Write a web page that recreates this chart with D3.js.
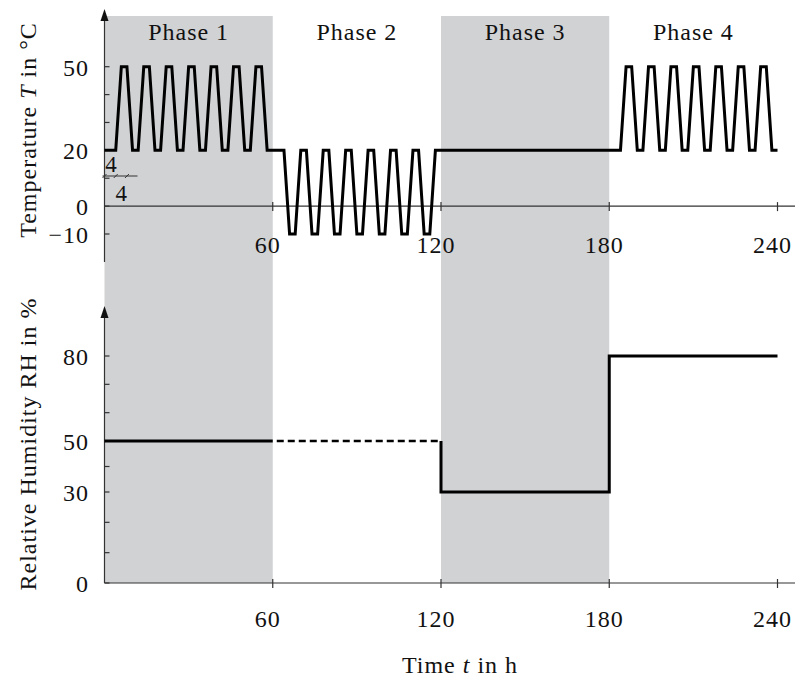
<!DOCTYPE html>
<html>
<head>
<meta charset="utf-8">
<script src="https://cdn.jsdelivr.net/npm/d3@7"></script>
<style>
  body { margin: 0; background: #fff; }
  svg text { font-family: "Times New Roman", "Liberation Serif", Times, serif; fill: #111; }
</style>
</head>
<body>
<div id="chart"></div>
<script>
// phases (start hour of each 60 h block)
const phaseNames = ["Phase 1", "Phase 2", "Phase 3", "Phase 4"];
const phaseStart = [0, 60, 120, 180];
const phaseShaded = [true, false, true, false];

// temperature profile, corner points (h, °C)
const tempTime = [
  0, 4, 6, 8, 10, 12, 14, 16, 18, 20, 22, 24, 26, 28, 30, 32, 34, 36, 38, 40, 42, 44, 46, 48, 50, 52, 54, 56, 58,
  64, 66, 68, 70, 72, 74, 76, 78, 80, 82, 84, 86, 88, 90, 92, 94, 96, 98, 100, 102, 104, 106, 108, 110, 112, 114, 116, 118,
  184, 186, 188, 190, 192, 194, 196, 198, 200, 202, 204, 206, 208, 210, 212, 214, 216, 218, 220, 222, 224, 226, 228, 230, 232, 234, 236, 238, 240
];
const tempValue = [
  20, 20, 50, 50, 20, 20, 50, 50, 20, 20, 50, 50, 20, 20, 50, 50, 20, 20, 50, 50, 20, 20, 50, 50, 20, 20, 50, 50, 20,
  20, -10, -10, 20, 20, -10, -10, 20, 20, -10, -10, 20, 20, -10, -10, 20, 20, -10, -10, 20, 20, -10, -10, 20, 20, -10, -10, 20,
  20, 50, 50, 20, 20, 50, 50, 20, 20, 50, 50, 20, 20, 50, 50, 20, 20, 50, 50, 20, 20, 50, 50, 20, 20, 50, 50, 20, 20
];

// relative humidity profile (h, %)
const rhSolid1 = [[0, 50], [60, 50]];
const rhDashed = [[60, 50], [120, 50]];
const rhSolid2 = [[120, 50], [120, 30], [180, 30], [180, 80], [240, 80]];

// axis ticks
const xTicks = [60, 120, 180, 240];
const tempTicks = [-10, 0, 10, 20, 30, 40, 50];
const tempLabels = [-10, 0, 20, 50];
const rhTicks = [0, 10, 20, 30, 40, 50, 60, 70, 80];
const rhLabels = [0, 30, 50, 80];
const dimMarks = [0, 4, 8];

const W = 795, H = 686;
const svg = d3.select("#chart").append("svg")
  .attr("width", W).attr("height", H);

const x = d3.scaleLinear().domain([0, 240]).range([104.5, 777.5]);
const yT = d3.scaleLinear().domain([-10, 50]).range([234, 66.7]);
// the RH axis of the original is not evenly spaced
const yRH = d3.scaleLinear().domain([0, 30, 50, 80]).range([583, 492, 441, 356]);

const bandTop = 16, bandBottom = yRH(0);
const axisColor = "#333";

// shaded phases
svg.append("g").selectAll("rect")
  .data(phaseStart.filter((d, i) => phaseShaded[i]))
  .join("rect")
  .attr("x", d => x(d))
  .attr("y", bandTop)
  .attr("width", d => x(d + 60) - x(d))
  .attr("height", bandBottom - bandTop)
  .attr("fill", "#d1d2d4");

// phase titles
svg.append("g").selectAll("text")
  .data(phaseNames)
  .join("text")
  .attr("x", (d, i) => x(phaseStart[i] + 30))
  .attr("y", 40)
  .attr("text-anchor", "middle")
  .style("font-size", "24px")
  .style("letter-spacing", "1px")
  .text(d => d);

function xAxis(y0, labelY) {
  const g = svg.append("g");
  g.append("line")
    .attr("x1", x(0)).attr("x2", W)
    .attr("y1", y0).attr("y2", y0)
    .attr("stroke", axisColor).attr("stroke-width", 1.2);
  g.selectAll("line.tick").data(xTicks).join("line")
    .attr("class", "tick")
    .attr("x1", d => x(d)).attr("x2", d => x(d))
    .attr("y1", y0 - 4).attr("y2", y0 + 5)
    .attr("stroke", axisColor).attr("stroke-width", 1.2);
  g.selectAll("text").data(xTicks).join("text")
    .attr("x", d => x(d) - 5)
    .attr("y", labelY)
    .attr("text-anchor", "middle")
    .style("font-size", "24px")
    .style("letter-spacing", "1px")
    .text(d => d);
}

function yAxis(scale, ticks, labels, top, bottom) {
  const g = svg.append("g");
  g.append("line")
    .attr("x1", x(0)).attr("x2", x(0))
    .attr("y1", top + 8).attr("y2", bottom)
    .attr("stroke", axisColor).attr("stroke-width", 1.2);
  // arrow head
  g.append("path")
    .attr("d", `M${x(0)},${top} L${x(0) - 4},${top + 12} L${x(0) + 4},${top + 12} Z`)
    .attr("fill", "#111");
  g.selectAll("line.tick").data(ticks).join("line")
    .attr("class", "tick")
    .attr("x1", x(0)).attr("x2", x(0) + 5)
    .attr("y1", d => scale(d)).attr("y2", d => scale(d))
    .attr("stroke", axisColor).attr("stroke-width", 1.2);
  g.selectAll("text").data(labels).join("text")
    .attr("x", 89)
    .attr("y", d => scale(d) + 9)
    .attr("text-anchor", "end")
    .style("font-size", "24px")
    .style("letter-spacing", "1px")
    .text(d => d3.format("d")(d));
}

xAxis(yT(0), 253);
yAxis(yT, tempTicks, tempLabels, 9, 262);
xAxis(yRH(0), 627);
yAxis(yRH, rhTicks, rhLabels, 306, yRH(0));

// dimension note for the 4 h steps
const dim = svg.append("g");
dim.append("line")
  .attr("x1", x(0) - 2).attr("x2", x(0) + 33)
  .attr("y1", 176).attr("y2", 176)
  .attr("stroke", axisColor).attr("stroke-width", 1);
dim.selectAll("path").data(dimMarks).join("path")
  .attr("d", d => `M${x(d) - 2},${178} L${x(d) + 2},${174}`)
  .attr("stroke", axisColor).attr("stroke-width", 1);
dim.append("text")
  .attr("x", x(2) + 1).attr("y", 172)
  .attr("text-anchor", "middle")
  .style("font-size", "23px")
  .text("4");
dim.append("text")
  .attr("x", x(6)).attr("y", 201)
  .attr("text-anchor", "middle")
  .style("font-size", "23px")
  .text("4");

// temperature curve
const tempLine = d3.line()
  .x(d => x(d[0]))
  .y(d => yT(d[1]));
svg.append("path")
  .datum(tempTime.map((t, i) => [t, tempValue[i]]))
  .attr("d", tempLine)
  .attr("fill", "none")
  .attr("stroke", "#000")
  .attr("stroke-width", 3)
  .attr("stroke-linejoin", "miter");

// humidity curve
const rhLine = d3.line()
  .x(d => x(d[0]))
  .y(d => yRH(d[1]));
svg.append("path").datum(rhSolid1).attr("d", rhLine)
  .attr("fill", "none").attr("stroke", "#000").attr("stroke-width", 3);
svg.append("path").datum(rhDashed).attr("d", rhLine)
  .attr("fill", "none").attr("stroke", "#000").attr("stroke-width", 2.5)
  .attr("stroke-dasharray", "7,4").attr("stroke-dashoffset", -4);
svg.append("path").datum(rhSolid2).attr("d", rhLine)
  .attr("fill", "none").attr("stroke", "#000").attr("stroke-width", 3);

// axis titles
const tTitle = svg.append("text")
  .attr("transform", "translate(36,130) rotate(-90)")
  .attr("text-anchor", "middle")
  .style("font-size", "24px")
  .style("letter-spacing", "1px");
tTitle.append("tspan").text("Temperature ");
tTitle.append("tspan").style("font-style", "italic").text("T");
tTitle.append("tspan").text(" in °C");

svg.append("text")
  .attr("transform", "translate(36,444) rotate(-90)")
  .attr("text-anchor", "middle")
  .style("font-size", "24px")
  .style("letter-spacing", "1px")
  .text("Relative Humidity RH in %");

const xTitle = svg.append("text")
  .attr("x", 460).attr("y", 673)
  .attr("text-anchor", "middle")
  .style("font-size", "24px")
  .style("letter-spacing", "1px");
xTitle.append("tspan").text("Time ");
xTitle.append("tspan").style("font-style", "italic").text("t");
xTitle.append("tspan").text(" in h");
</script>
</body>
</html>
